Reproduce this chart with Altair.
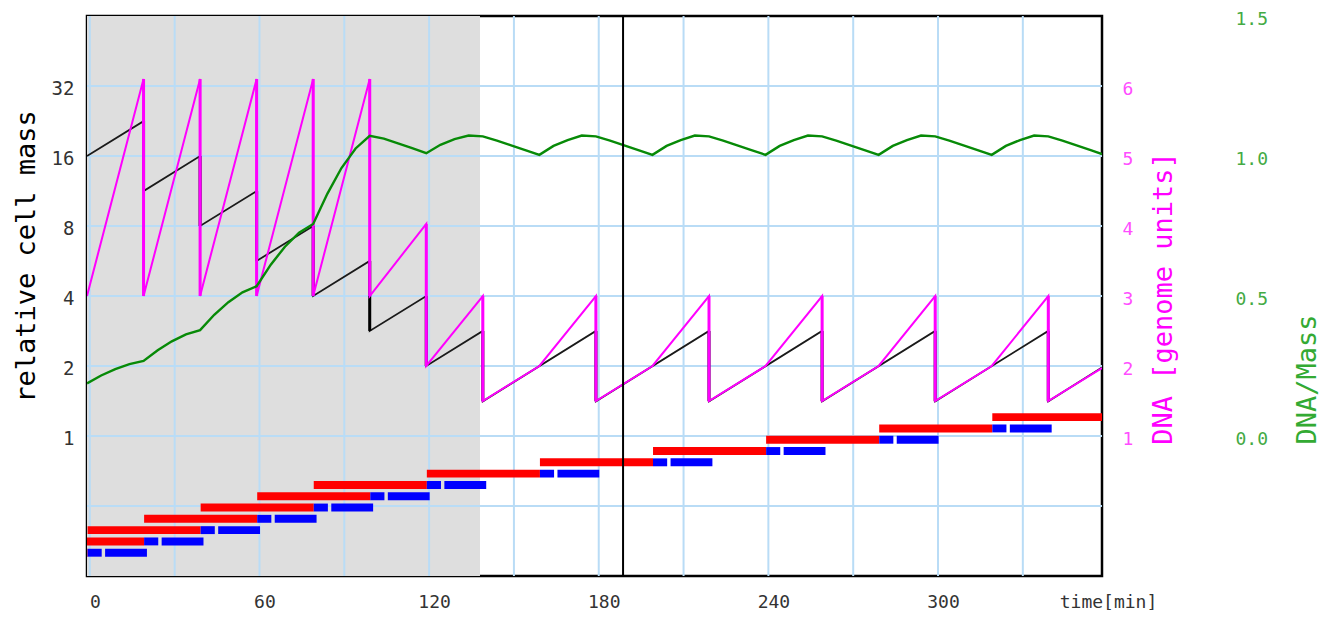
import altair as alt
import pandas as pd

# ---------------- data ----------------
# relative cell mass (black, log scale); repeated times are divisions
mass_t = [-1, 19, 19, 39, 39, 59, 59, 79, 79, 99, 99, 119, 119, 139, 139,
          179, 179, 219, 219, 259, 259, 299, 299, 339, 339, 358]
mass_v = [16, 22.6, 11.3, 16, 8, 11.3, 5.66, 8, 4, 5.66, 2.83, 4, 2, 2.83, 1.41,
          2.83, 1.41, 2.83, 1.41, 2.83, 1.41, 2.83, 1.41, 2.83, 1.41, 1.97]

# DNA in genome units (magenta)
dna_t = [-1, 19, 19, 39, 39, 59, 59, 79, 79, 99, 99, 119, 119, 139, 139, 159, 179,
         179, 199, 219, 219, 239, 259, 259, 279, 299, 299, 319, 339, 339, 358]
dna_v = [3, 6.1, 3, 6.1, 3, 6.1, 3, 6.1, 3, 6.1, 3, 4.03, 2, 3, 1.5, 2, 3,
         1.5, 2, 3, 1.5, 2, 3, 1.5, 2, 3, 1.5, 2, 3, 1.5, 1.97]

# DNA / Mass (green)
ratio_t = [-1, 4, 9, 14, 19, 24, 29, 34, 39, 44, 49, 54, 59, 64, 69, 74, 79, 84, 89, 94, 99,
           104, 109, 114, 119, 124, 129, 134, 139, 144, 149, 154, 159, 164, 169, 174, 179,
           184, 189, 194, 199, 204, 209, 214, 219, 224, 229, 234, 239, 244, 249, 254, 259,
           264, 269, 274, 279, 284, 289, 294, 299, 304, 309, 314, 319, 324, 329, 334, 339,
           344, 349, 354, 358]
ratio_v = [0.188, 0.216, 0.239, 0.257, 0.268, 0.306, 0.338, 0.363, 0.378, 0.433, 0.478,
           0.513, 0.535, 0.612, 0.676, 0.726, 0.757, 0.865, 0.957, 1.027, 1.072,
           1.062, 1.045, 1.028, 1.010, 1.040, 1.060, 1.073, 1.070, 1.055, 1.038, 1.021,
           1.004, 1.036, 1.057, 1.073, 1.070,
           1.055, 1.038, 1.021, 1.004, 1.036, 1.057, 1.073, 1.070, 1.055, 1.038, 1.021,
           1.004, 1.036, 1.057, 1.073, 1.070,
           1.055, 1.038, 1.021, 1.004, 1.036, 1.057, 1.073, 1.070, 1.055, 1.038, 1.021,
           1.004, 1.036, 1.057, 1.073, 1.070,
           1.055, 1.038, 1.021, 1.007]

# replication (red, C period) and division (blue, D period) bars, one row per round
bar_row = [0, 1, 2, 3, 4, 5, 6, 7, 8, 9, 10, 11, 12]
c_beg = [-40.8, -20.8, -0.8, 19.2, 39.2, 59.2, 79.2, 119.2, 159.2, 199.2, 239.2, 279.2, 319.2]
c_fin = [-0.8, 19.2, 39.2, 59.2, 79.2, 99.2, 119.2, 159.2, 199.2, 239.2, 279.2, 319.2, 359.2]
d1_fin = [4.2, 24.2, 44.2, 64.2, 84.2, 104.2, 124.2, 164.2, 204.2, 244.2, 284.2, 324.2, 364.2]
d2_beg = [5.4, 25.4, 45.4, 65.4, 85.4, 105.4, 125.4, 165.4, 205.4, 245.4, 285.4, 325.4, 365.4]
d2_fin = [20.2, 40.2, 60.2, 80.2, 100.2, 120.2, 140.2, 180.2, 220.2, 260.2, 300.2, 340.2, 380.2]

shade_start = [-1]
shade_end = [138]
marker_t = [188.6]

grid_t = [0, 30, 60, 90, 120, 150, 180, 210, 240, 270, 300, 330]
grid_mass = [0.5, 1, 2, 4, 8, 16, 32]

x_ticks = [0, 60, 120, 180, 240, 300]
mass_ticks = [1, 2, 4, 8, 16, 32]
dna_ticks = [1, 2, 3, 4, 5, 6]
ratio_ticks = [0.0, 0.5, 1.0, 1.5]

# ---------------- frames ----------------
mass_df = pd.DataFrame({"t": mass_t, "m": mass_v, "i": range(len(mass_t))})
dna_df = pd.DataFrame({"t": dna_t, "d": dna_v, "i": range(len(dna_t))})
ratio_df = pd.DataFrame({"t": ratio_t, "r": ratio_v})


def drops(ts, vs):
    rows = []
    for k in range(1, len(ts)):
        if ts[k] == ts[k - 1]:
            rows.append({"t": ts[k], "top": vs[k - 1], "bot": vs[k]})
    return pd.DataFrame(rows)


mass_drop_df = drops(mass_t, mass_v)
dna_drop_df = drops(dna_t, dna_v)

bars_df = pd.DataFrame({"row": bar_row, "c0": c_beg, "c1": c_fin,
                        "d1": d1_fin, "e0": d2_beg, "e1": d2_fin})
bars_df["lo"] = bars_df["row"] - 0.35
bars_df["hi"] = bars_df["row"] + 0.35

shade_df = pd.DataFrame({"t0": shade_start, "t1": shade_end})
vgrid_df = pd.DataFrame({"t": grid_t})
hgrid_df = pd.DataFrame({"m": grid_mass})
marker_df = pd.DataFrame({"t": marker_t})

# ---------------- styling ----------------
W, H = 1015, 560
FONT = "DejaVu Sans Mono"
GRID = "#b9dcf6"

x_scale = alt.Scale(domain=[-1, 358], nice=False, zero=False)
mass_scale = alt.Scale(type="log", base=2, domain=[0.25, 64], nice=False)
dna_scale = alt.Scale(domain=[-1, 7], nice=False, zero=False)
ratio_scale = alt.Scale(domain=[-0.5, 1.5], nice=False, zero=False)
row_scale = alt.Scale(domain=[-2.06, 47.5], nice=False, zero=False)

x_axis = alt.Axis(orient="bottom", values=x_ticks, grid=False, ticks=False, tickSize=0,
                  domain=False, labelFont=FONT, labelFontSize=18, labelColor="#333333",
                  labelPadding=26, labelBaseline="middle", labelOffset=5, labelFlush=False,
                  title="time[min]", titleFont=FONT, titleFontSize=18,
                  titleFontWeight="normal", titleColor="#333333",
                  titleX=1021, titleY=26, titleAngle=0, titleAlign="center",
                  titleBaseline="middle")

mass_axis = alt.Axis(orient="left", values=mass_ticks, grid=False, ticks=False, tickSize=0,
                     domain=False, labelFont=FONT, labelFontSize=19, labelColor="#333333",
                     labelAlign="right", labelPadding=13, labelBaseline="middle",
                     labelOffset=2, labelFlush=False,
                     title="relative cell mass", titleFont=FONT, titleFontSize=27,
                     titleFontWeight="normal", titleColor="black", titleX=-61, titleY=240,
                     titleAngle=270, titleAlign="center", titleBaseline="middle")

dna_axis = alt.Axis(orient="right", values=dna_ticks, grid=False, ticks=False, tickSize=0,
                    domain=False, labelFont=FONT, labelFontSize=18, labelColor="#ff4dff",
                    labelAlign="left", labelPadding=20, labelBaseline="middle",
                    labelOffset=3, labelFlush=False,
                    title="DNA [genome units]", titleFont=FONT, titleFontSize=27,
                    titleFontWeight="normal", titleColor="#ff00ff", titleX=61, titleY=282,
                    titleAngle=270, titleAlign="center", titleBaseline="middle")

ratio_axis = alt.Axis(orient="right", values=ratio_ticks, format=".1f", grid=False,
                      ticks=False, tickSize=0, domain=False, labelFont=FONT,
                      labelFontSize=18, labelColor="#44aa44", labelAlign="left",
                      labelPadding=133, labelBaseline="middle", labelOffset=3,
                      labelFlush=False,
                      title="DNA/Mass", titleFont=FONT, titleFontSize=27,
                      titleFontWeight="normal", titleColor="#33aa33", titleX=205,
                      titleY=363, titleAngle=270, titleAlign="center",
                      titleBaseline="middle")


def X(field):
    # every layer carries the same x axis definition so the shared axis merges cleanly
    return alt.X(field, scale=x_scale, axis=x_axis)


# ---------------- layers (flat, each with its own y scale) ----------------
shade = alt.Chart(shade_df).mark_rect(color="#dedede").encode(
    x=X("t0:Q"), x2="t1:Q", y=alt.value(0), y2=alt.value(H))

vgrid = alt.Chart(vgrid_df).mark_rule(color=GRID, strokeWidth=2).encode(
    x=X("t:Q"), y=alt.value(0), y2=alt.value(H))

hgrid = alt.Chart(hgrid_df).mark_rule(color=GRID, strokeWidth=2).encode(
    y=alt.Y("m:Q", scale=mass_scale, axis=mass_axis), x=alt.value(0), x2=alt.value(W))

mass_line = alt.Chart(mass_df).mark_line(color="#1a1a1a", strokeWidth=1.8, clip=True).encode(
    x=X("t:Q"), y=alt.Y("m:Q", scale=mass_scale, axis=None), order="i:Q")

mass_drop = alt.Chart(mass_drop_df).mark_rule(color="black", strokeWidth=3).encode(
    x=X("t:Q"), y=alt.Y("top:Q", scale=mass_scale, axis=None), y2="bot:Q")

dna_line = alt.Chart(dna_df).mark_line(color="#ff00ff", strokeWidth=2, clip=True).encode(
    x=X("t:Q"), y=alt.Y("d:Q", scale=dna_scale, axis=dna_axis), order="i:Q")

dna_drop = alt.Chart(dna_drop_df).mark_rule(color="#ff00ff", strokeWidth=3).encode(
    x=X("t:Q"), y=alt.Y("top:Q", scale=dna_scale, axis=None), y2="bot:Q")

ratio_line = alt.Chart(ratio_df).mark_line(color="#078a07", strokeWidth=2.4, clip=True).encode(
    x=X("t:Q"), y=alt.Y("r:Q", scale=ratio_scale, axis=ratio_axis))

bars_base = alt.Chart(bars_df)
red = bars_base.mark_rect(color="#ff0000", clip=True).encode(
    x=X("c0:Q"), x2="c1:Q", y=alt.Y("lo:Q", scale=row_scale, axis=None), y2="hi:Q")
blue1 = bars_base.mark_rect(color="#0000ff", clip=True).encode(
    x=X("c1:Q"), x2="d1:Q", y=alt.Y("lo:Q", scale=row_scale, axis=None), y2="hi:Q")
blue2 = bars_base.mark_rect(color="#0000ff", clip=True).encode(
    x=X("e0:Q"), x2="e1:Q", y=alt.Y("lo:Q", scale=row_scale, axis=None), y2="hi:Q")

marker = alt.Chart(marker_df).mark_rule(color="black", strokeWidth=2).encode(
    x=X("t:Q"), y=alt.value(0), y2=alt.value(H))

chart = alt.layer(
    shade, vgrid, hgrid, mass_line, mass_drop, dna_line, dna_drop, ratio_line,
    red, blue1, blue2, marker
).resolve_scale(
    y="independent"
).properties(
    width=W, height=H,
    autosize=alt.AutoSizeParams(type="none"),
    padding={"left": 79, "top": 8, "right": 220, "bottom": 34},
).configure_view(stroke="black", strokeWidth=2.5)

chart.save("out.html", embed_options={"renderer": "svg", "actions": False})
